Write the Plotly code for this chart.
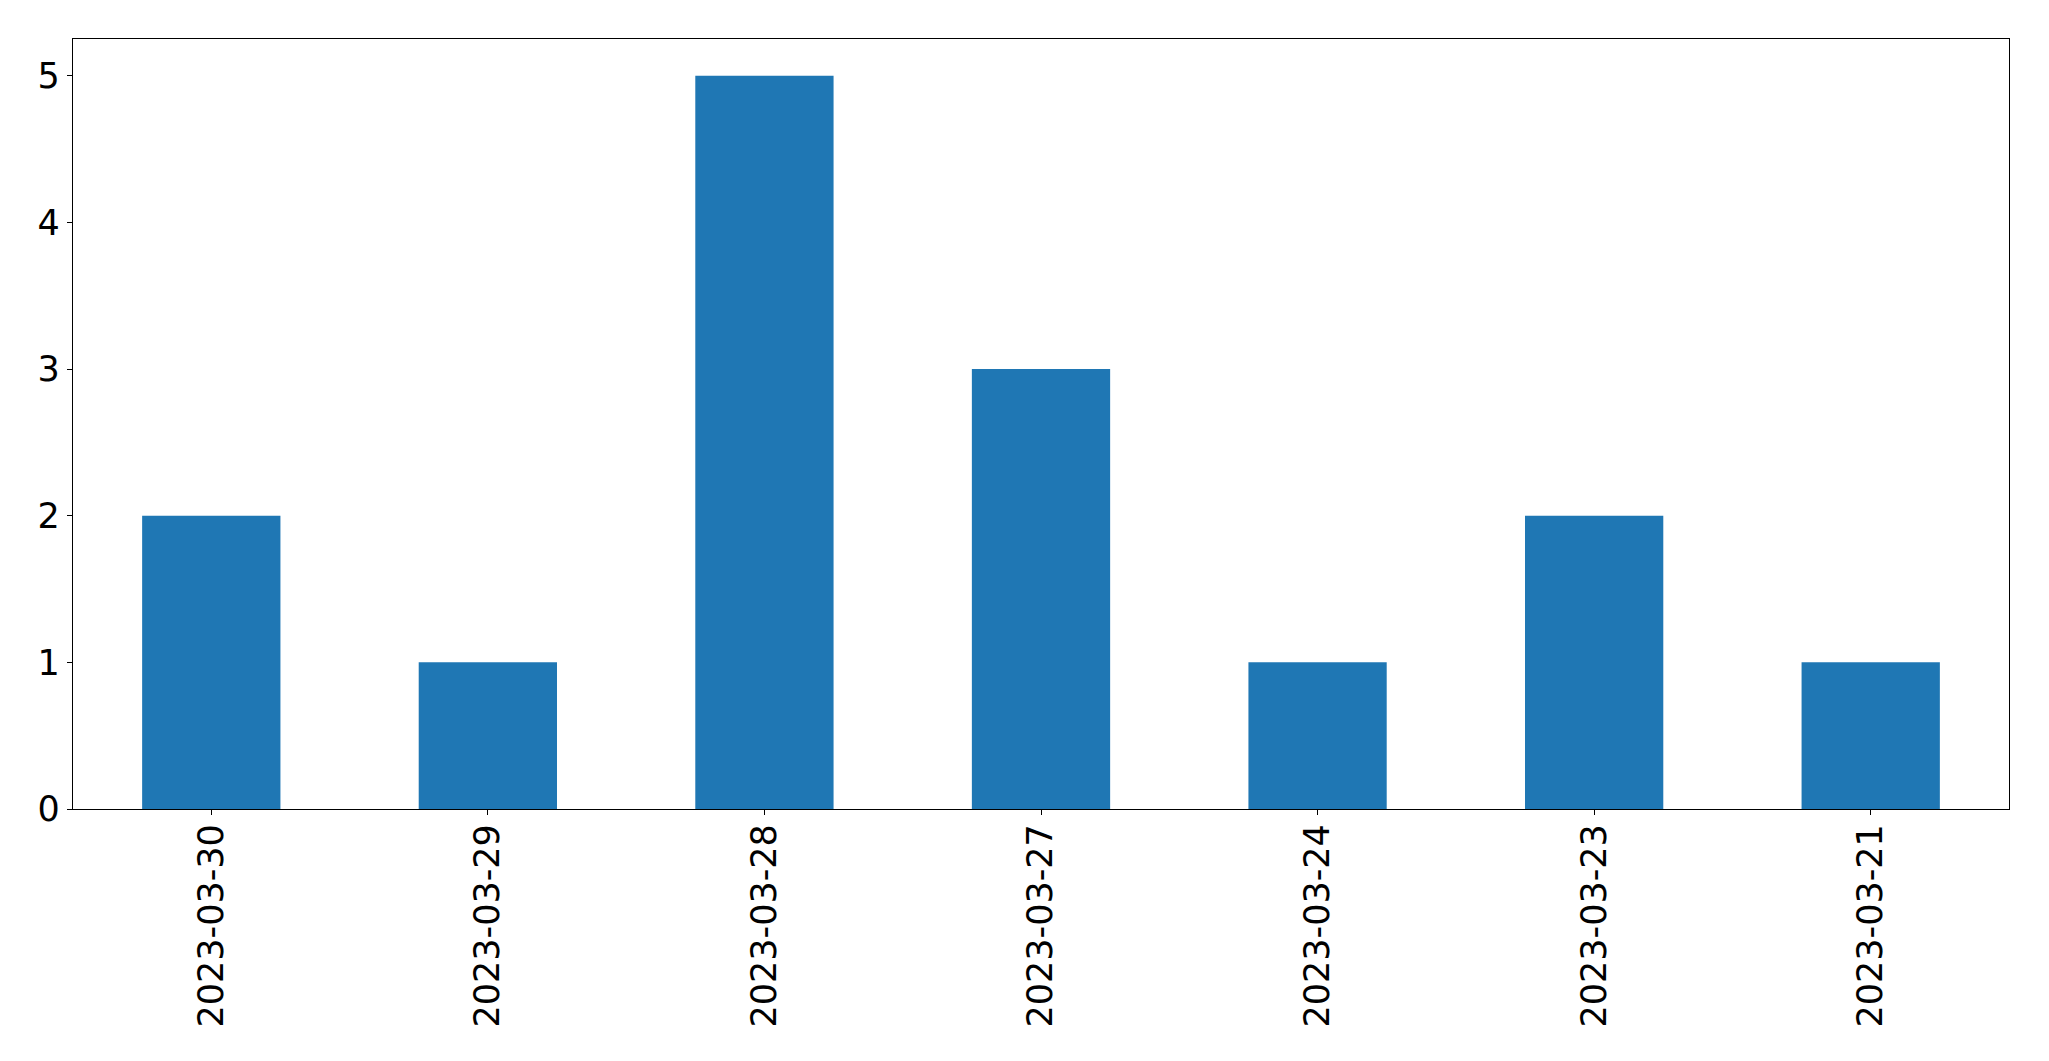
import plotly.graph_objects as go

dates = ["2023-03-30", "2023-03-29", "2023-03-28", "2023-03-27", "2023-03-24", "2023-03-23", "2023-03-21"]
counts = [2, 1, 5, 3, 1, 2, 1]
y_ticks = [0, 1, 2, 3, 4, 5]

fig = go.Figure(
    go.Bar(x=dates, y=counts, marker=dict(color="#1f77b4", line=dict(width=0)), width=0.5)
)

fig.update_layout(
    width=2033,
    height=1045,
    margin=dict(l=65, r=32, t=31, b=244, pad=0),
    paper_bgcolor="white",
    plot_bgcolor="white",
    font=dict(family="DejaVu Sans", size=35, color="black"),
    showlegend=False,
    bargap=0.5,
)

fig.update_xaxes(
    type="category",
    range=[-0.5, 6.5],
    tickangle=-90,
    ticks="outside",
    ticklen=5,
    tickwidth=1.3,
    tickcolor="black",
    ticklabelstandoff=-5,
    showline=True,
    linecolor="black",
    linewidth=1.3,
    mirror=True,
    showgrid=False,
    zeroline=False,
    automargin=False,
)

fig.update_yaxes(
    range=[0, 5.25],
    tickvals=y_ticks,
    ticks="outside",
    ticklen=5,
    tickwidth=1.3,
    tickcolor="black",
    showline=True,
    linecolor="black",
    linewidth=1.3,
    mirror=True,
    showgrid=False,
    zeroline=False,
    automargin=False,
)

fig.write_html("out.html")
